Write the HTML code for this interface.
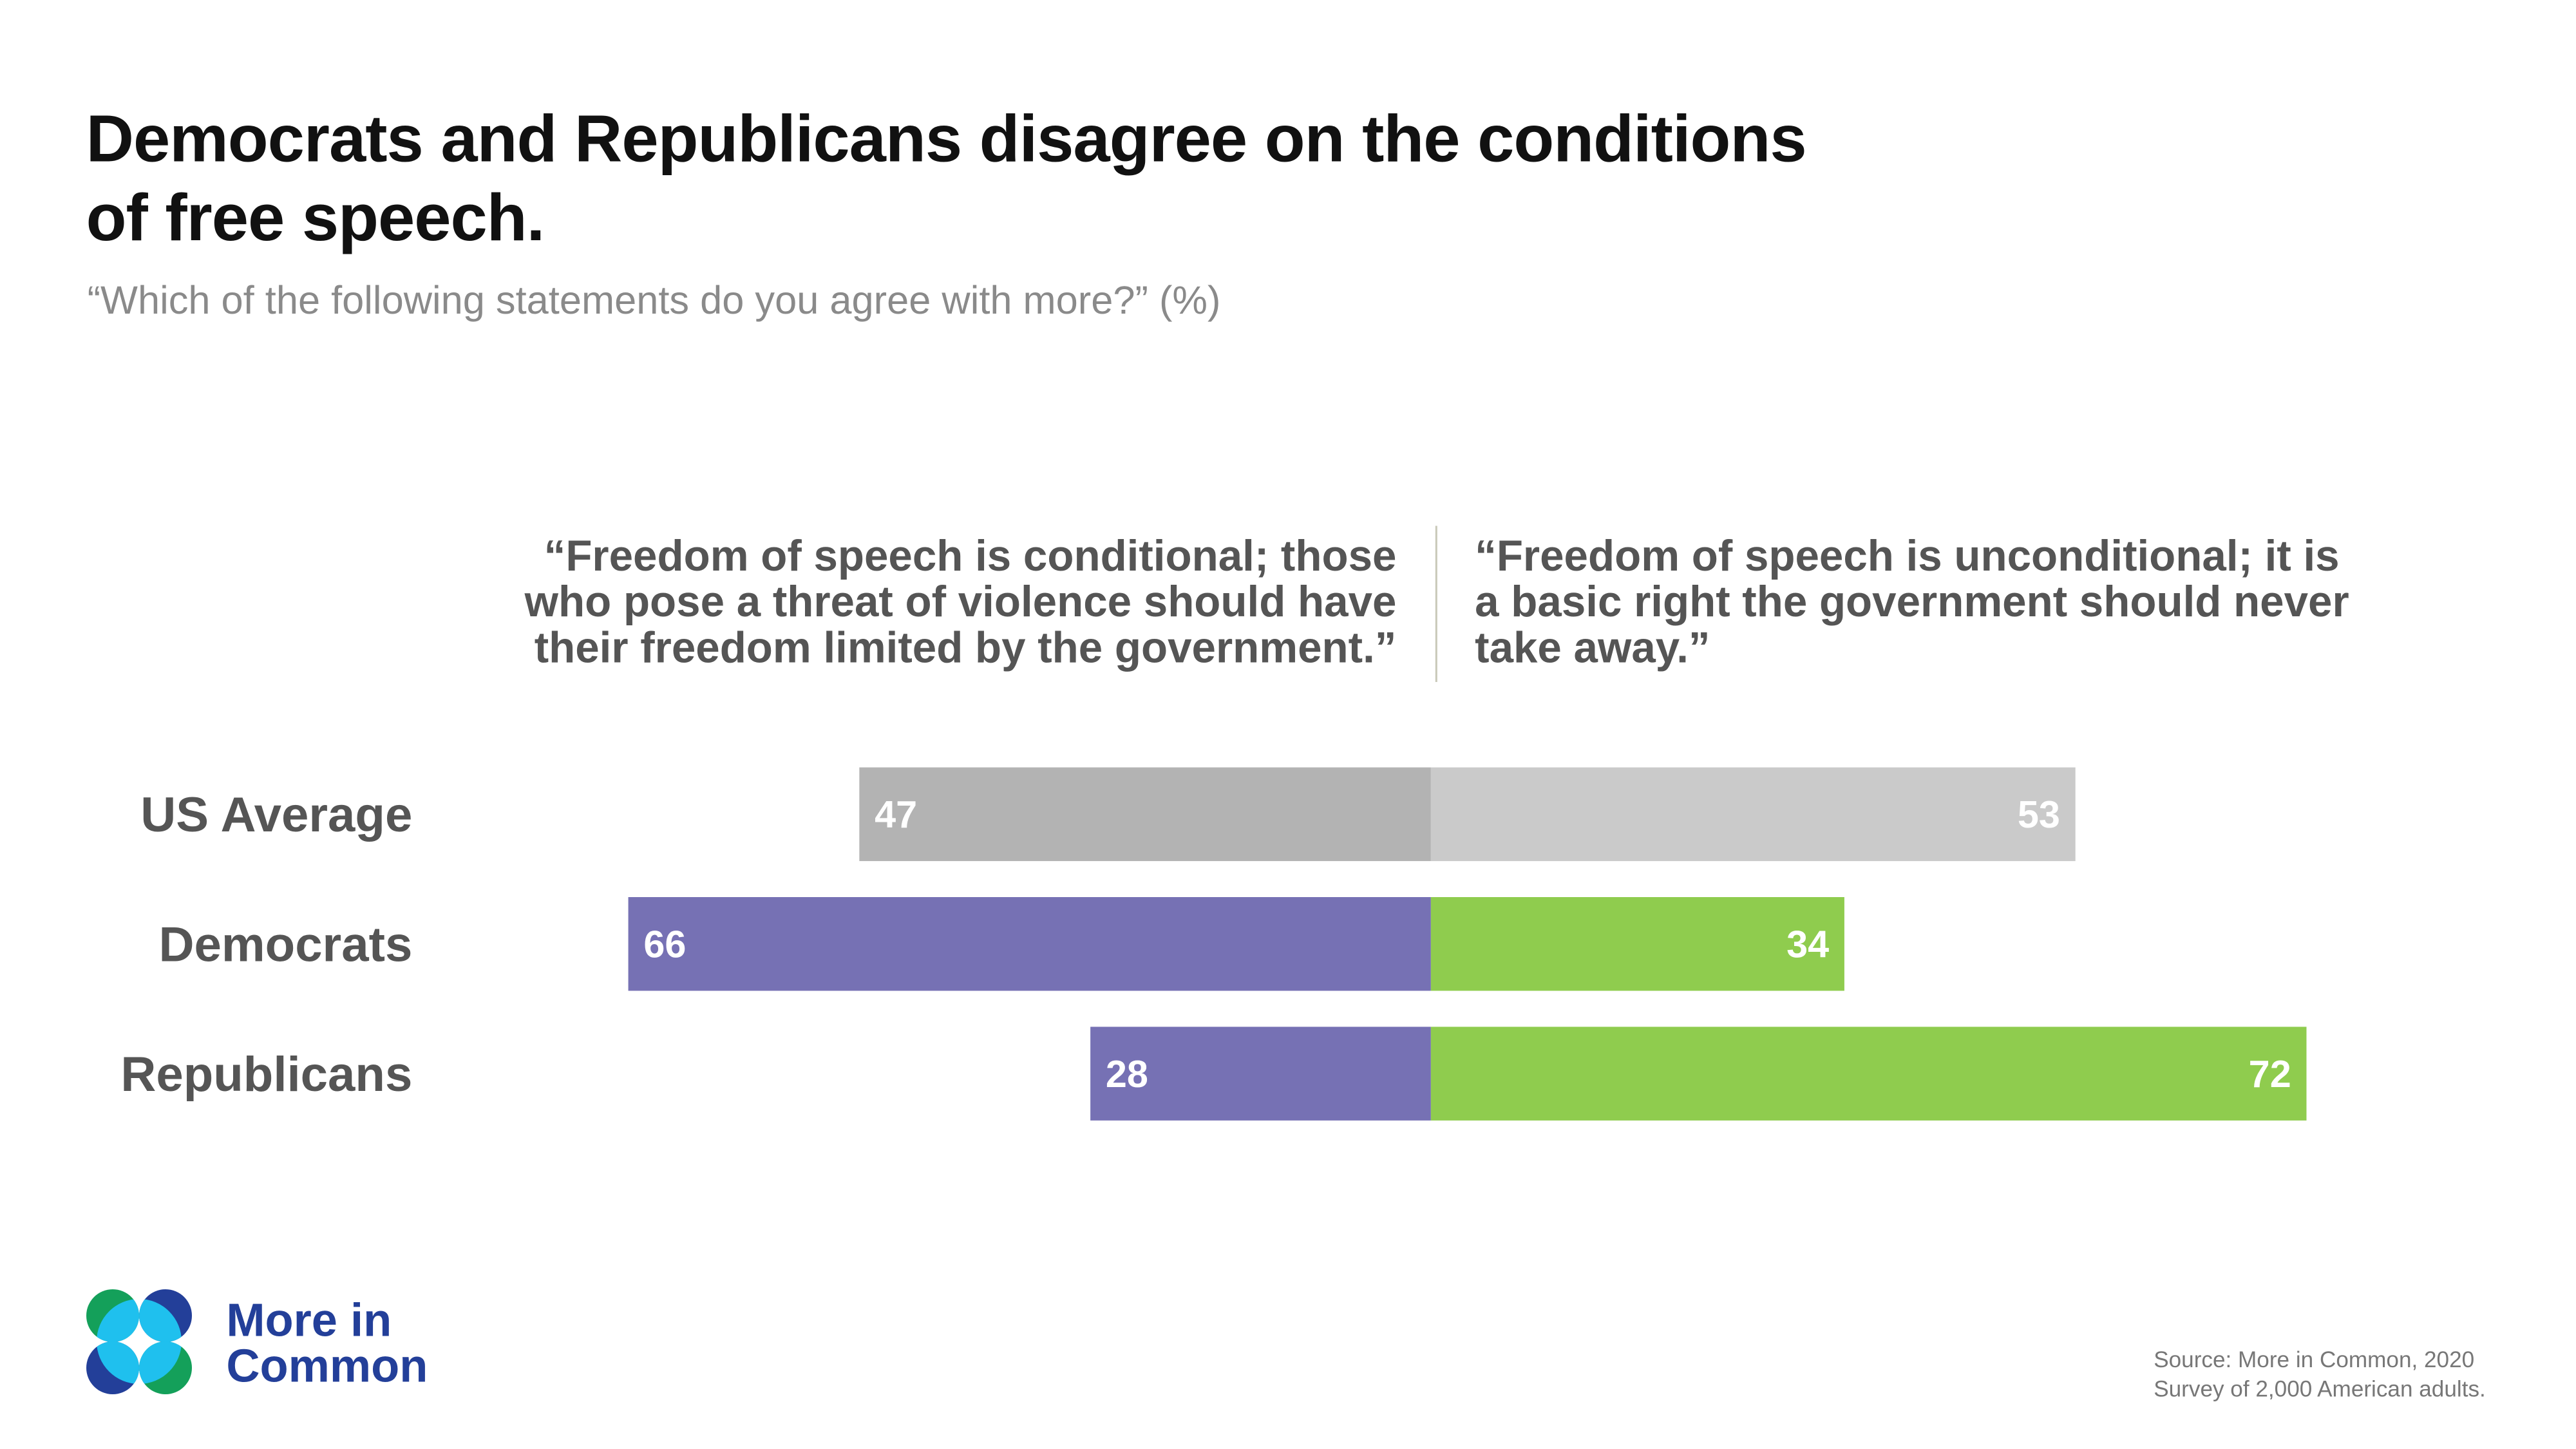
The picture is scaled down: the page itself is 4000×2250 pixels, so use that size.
<!DOCTYPE html>
<html><head><meta charset="utf-8"><style>
body{margin:0;width:4000px;height:2250px;background:#fff;font-family:"Liberation Sans",sans-serif;position:relative;overflow:hidden}
#wrap{position:absolute;left:0;top:0;width:4000px;height:2250px;transform:scale(0.9897);transform-origin:0 0}
.t{position:absolute;white-space:nowrap}
</style></head><body><div id="wrap">
<div class="t" style="left:135px;top:156px;font-size:104px;font-weight:bold;color:#111;line-height:124px;letter-spacing:-1px">Democrats and Republicans disagree on the conditions<br>of free speech.</div>
<div class="t" style="left:137px;top:436px;font-size:62px;color:#8a8a8a">“Which of the following statements do you agree with more?” (%)</div>
<div class="t" style="right:1809px;top:836px;font-size:68px;font-weight:bold;color:#555;line-height:72px;text-align:right">“Freedom of speech is conditional; those<br>who pose a threat of violence should have<br>their freedom limited by the government.”</div>
<div class="t" style="left:2314px;top:836px;font-size:68px;font-weight:bold;color:#555;line-height:72px">“Freedom of speech is unconditional; it is<br>a basic right the government should never<br>take away.”</div>
<div style="position:absolute;left:2252px;top:825px;width:3px;height:245px;background:#c8c8b8"></div>
<svg id="chart" width="4000" height="2250" style="position:absolute;left:0;top:0"></svg>
<div class="t" style="left:355px;top:2036px;font-size:73px;font-weight:bold;color:#233f99;line-height:72px">More in<br>Common</div>
<div class="t" style="left:3379px;top:2110px;font-size:35.5px;color:#777;line-height:46px">Source: More in Common, 2020<br>Survey of 2,000 American adults.</div>
</div>
<svg width="200" height="200" style="position:absolute;left:120px;top:1990px">
<defs>
<clipPath id="cTL"><circle cx="55" cy="53" r="41"/></clipPath>
<clipPath id="cTR"><circle cx="137" cy="53" r="41"/></clipPath>
<clipPath id="cBL"><circle cx="55" cy="134" r="41"/></clipPath>
<clipPath id="cBR"><circle cx="137" cy="134" r="41"/></clipPath>
</defs>
<circle cx="55" cy="53" r="41" fill="#14a05a"/>
<circle cx="137" cy="53" r="41" fill="#233f99"/>
<circle cx="55" cy="134" r="41" fill="#233f99"/>
<circle cx="137" cy="134" r="41" fill="#14a05a"/>
<g clip-path="url(#cTL)"><circle cx="96" cy="93" r="66" fill="#1fc0ee"/></g>
<g clip-path="url(#cTR)"><circle cx="96" cy="93" r="66" fill="#1fc0ee"/></g>
<g clip-path="url(#cBL)"><circle cx="96" cy="93" r="66" fill="#1fc0ee"/></g>
<g clip-path="url(#cBR)"><circle cx="96" cy="93" r="66" fill="#1fc0ee"/></g>
</svg>
<script>
const categories=["US Average","Democrats","Republicans"];
const conditionalValues=[47,66,28];
const unconditionalValues=[53,34,72];
const svg=document.getElementById('chart');
const NS='http://www.w3.org/2000/svg';
const x0=2245, unit=19.08, y0=1204, step=203.5, bh=147;
const xs=v=>v*unit;
const yb=i=>y0+i*step;
const leftCol=["#b3b3b3","#7671b4","#7671b4"], rightCol=["#cacaca","#8fcc4e","#8fcc4e"];
function mk(t,a){const e=document.createElementNS(NS,t);for(const k in a)e.setAttribute(k,a[k]);svg.appendChild(e);return e;}
categories.forEach((c,i)=>{
  const y=yb(i);
  const l=mk('rect',{x:x0-xs(conditionalValues[i]),y:y,width:xs(conditionalValues[i]),height:bh,fill:leftCol[i]});
  
  
  const r=mk('rect',{x:x0,y:y,width:xs(unconditionalValues[i]),height:bh,fill:rightCol[i]});
  
  
  const lt=mk('text',{x:x0-xs(conditionalValues[i])+24,y:y+bh/2+21,fill:'#fff','font-size':60,'font-weight':'bold','font-family':'Liberation Sans'});
  lt.textContent=conditionalValues[i];
  
  
  const rt=mk('text',{x:x0+xs(unconditionalValues[i])-24,y:y+bh/2+21,fill:'#fff','font-size':60,'font-weight':'bold','text-anchor':'end','font-family':'Liberation Sans'});
  rt.textContent=unconditionalValues[i];
  
  
  const ct=mk('text',{x:647,y:y+bh/2+27,fill:'#555','font-size':77,'font-weight':'bold','text-anchor':'end','font-family':'Liberation Sans'});
  ct.textContent=c;
  
  
});
</script>
</body></html>
